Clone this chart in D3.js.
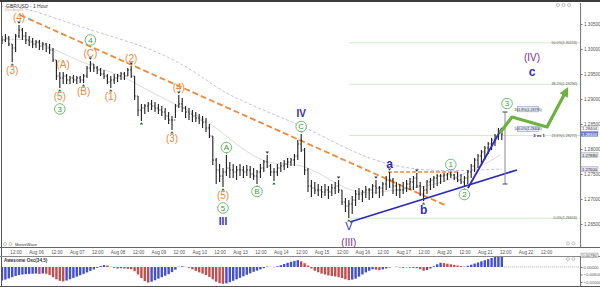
<!DOCTYPE html>
<html>
<head>
<meta charset="utf-8">
<script src="https://cdn.jsdelivr.net/npm/d3@7"></script>
<style>
  body { margin: 0; background: #fff; }
  svg { display: block; font-family: "Liberation Sans", Arial, sans-serif; }
</style>
</head>
<body>
<svg id="chart" width="600" height="287"></svg>
<script>
// ---- GBP/USD, 2-hour bars (prices) ----
const barHigh = [
  1.3026,1.3030,1.3026,1.3010,1.3030,1.3048,1.3042,1.3034,1.3026,1.3022,
  1.3018,1.3018,1.3014,1.3012,1.3010,1.3002,1.2978,1.2954,1.2954,1.2950,
  1.2946,1.2948,1.2946,1.2946,1.2950,1.2966,1.2976,1.2970,1.2966,1.2962,
  1.2958,1.2950,1.2946,1.2950,1.2950,1.2954,1.2954,1.2962,1.2966,1.2946,
  1.2906,1.2890,1.2890,1.2894,1.2898,1.2894,1.2890,1.2886,1.2882,1.2874,
  1.2866,1.2890,1.2908,1.2902,1.2886,1.2882,1.2878,1.2874,1.2870,1.2866,
  1.2862,1.2850,1.2826,1.2782,1.2770,1.2762,1.2788,1.2774,1.2770,1.2766,
  1.2770,1.2766,1.2768,1.2766,1.2762,1.2758,1.2770,1.2778,1.2788,1.2770,
  1.2762,1.2770,1.2774,1.2778,1.2782,1.2782,1.2790,1.2818,1.2830,1.2802,
  1.2762,1.2738,1.2734,1.2730,1.2726,1.2730,1.2726,1.2730,1.2734,1.2738,
  1.2718,1.2702,1.2698,1.2706,1.2718,1.2722,1.2718,1.2726,1.2722,1.2730,
  1.2738,1.2726,1.2734,1.2746,1.2754,1.2742,1.2734,1.2730,1.2734,1.2738,
  1.2742,1.2746,1.2752,1.2734,1.2726,1.2738,1.2742,1.2746,1.2750,1.2750,
  1.2752,1.2752,1.2754,1.2750,1.2754,1.2750,1.2746,1.2758,1.2770,1.2782,
  1.2790,1.2798,1.2806,1.2814,1.2822,1.2830,1.2842,1.2838
];
const barLow = [
  1.3010,1.3014,1.3006,1.2974,1.2994,1.3022,1.3018,1.3010,1.3006,1.3002,
  1.3002,1.2998,1.2998,1.2994,1.2990,1.2974,1.2938,1.2922,1.2930,1.2930,
  1.2930,1.2932,1.2930,1.2932,1.2932,1.2942,1.2954,1.2954,1.2950,1.2946,
  1.2940,1.2930,1.2922,1.2930,1.2934,1.2938,1.2938,1.2946,1.2942,1.2898,
  1.2866,1.2856,1.2870,1.2874,1.2878,1.2874,1.2870,1.2866,1.2858,1.2850,
  1.2838,1.2862,1.2882,1.2874,1.2862,1.2858,1.2854,1.2854,1.2850,1.2842,
  1.2834,1.2822,1.2768,1.2730,1.2734,1.2724,1.2746,1.2742,1.2742,1.2738,
  1.2746,1.2742,1.2746,1.2742,1.2738,1.2730,1.2742,1.2754,1.2762,1.2746,
  1.2736,1.2746,1.2754,1.2758,1.2762,1.2766,1.2766,1.2778,1.2794,1.2748,
  1.2714,1.2704,1.2710,1.2706,1.2702,1.2706,1.2700,1.2706,1.2710,1.2712,
  1.2688,1.2674,1.2662,1.2670,1.2686,1.2698,1.2694,1.2702,1.2698,1.2702,
  1.2710,1.2702,1.2706,1.2718,1.2722,1.2710,1.2706,1.2702,1.2710,1.2714,
  1.2718,1.2718,1.2722,1.2706,1.2696,1.2710,1.2718,1.2722,1.2726,1.2730,
  1.2734,1.2738,1.2742,1.2738,1.2734,1.2730,1.2724,1.2730,1.2742,1.2754,
  1.2762,1.2770,1.2778,1.2790,1.2798,1.2806,1.2818,1.2818
];
const barClose = [
  1.3018,1.3022,1.3010,1.3002,1.3026,1.3038,1.3026,1.3018,1.3014,1.3010,
  1.3014,1.3006,1.3010,1.3002,1.2998,1.2978,1.2946,1.2942,1.2946,1.2938,
  1.2942,1.2938,1.2942,1.2938,1.2946,1.2962,1.2970,1.2962,1.2958,1.2950,
  1.2946,1.2934,1.2938,1.2942,1.2946,1.2950,1.2946,1.2958,1.2946,1.2906,
  1.2878,1.2882,1.2886,1.2890,1.2886,1.2882,1.2878,1.2874,1.2866,1.2858,
  1.2858,1.2886,1.2890,1.2882,1.2874,1.2870,1.2866,1.2862,1.2858,1.2854,
  1.2842,1.2826,1.2778,1.2758,1.2746,1.2754,1.2762,1.2758,1.2754,1.2758,
  1.2758,1.2754,1.2758,1.2750,1.2746,1.2754,1.2762,1.2774,1.2766,1.2754,
  1.2754,1.2762,1.2766,1.2770,1.2774,1.2778,1.2786,1.2810,1.2798,1.2758,
  1.2726,1.2722,1.2718,1.2718,1.2714,1.2718,1.2714,1.2722,1.2726,1.2718,
  1.2694,1.2686,1.2690,1.2698,1.2710,1.2710,1.2714,1.2718,1.2718,1.2726,
  1.2722,1.2722,1.2730,1.2738,1.2738,1.2726,1.2718,1.2718,1.2722,1.2730,
  1.2734,1.2742,1.2726,1.2710,1.2718,1.2734,1.2738,1.2742,1.2746,1.2746,
  1.2748,1.2750,1.2748,1.2742,1.2738,1.2734,1.2742,1.2754,1.2766,1.2778,
  1.2786,1.2794,1.2802,1.2810,1.2818,1.2826,1.2834,1.2830
];

// Awesome Oscillator (34,5), in thousandths
const aoMilli = [
  -9.0,-8.4,-7.6,-6.8,-6.0,-5.4,-5.0,-4.8,-4.6,-4.5,
  -4.4,-4.6,-4.3,-4.5,-5.4,-6.8,-8.2,-9.2,-9.6,-9.0,
  -8.2,-7.3,-6.4,-5.5,-4.6,-3.6,-2.6,-1.6,-0.6,0.6,
  1.3,1.0,0.2,-0.6,-1.0,-0.8,-1.0,-1.2,-1.5,-2.8,
  -5.0,-7.4,-9.4,-10.4,-9.8,-8.8,-7.8,-6.8,-5.8,-4.8,
  -3.4,-1.8,0.2,0.5,0.2,-0.6,-1.6,-2.6,-3.6,-4.4,
  -5.4,-6.6,-8.2,-9.8,-10.8,-11.2,-10.9,-10.2,-9.2,-8.2,
  -7.2,-6.2,-5.2,-4.2,-3.2,-2.4,-1.6,-0.8,0.3,0.1,
  -0.2,0.5,1.2,2.0,2.8,3.5,4.1,4.6,3.8,2.5,
  1.0,-1.0,-2.5,-3.5,-4.4,-5.0,-5.6,-6.0,-6.3,-6.8,
  -7.4,-8.2,-8.8,-8.4,-7.8,-6.4,-5.0,-3.6,-2.5,-1.5,
  -1.8,-2.1,-1.6,-1.0,-0.4,0.0,0.2,-0.3,-0.5,-0.2,
  -0.4,-0.6,-0.8,-1.5,-2.5,-2.0,-1.0,0.5,1.8,2.8,
  2.6,2.2,1.8,1.4,1.0,0.6,0.3,0.8,1.5,2.3,
  3.0,3.8,4.5,5.2,6.0,6.7,7.3,7.8
];
const aoValues = aoMilli.map(v => v / 1000);

// Session labels (one per trading day, starting Aug 03)
const dayLabels = ["Aug 03","Aug 06","Aug 07","Aug 08","Aug 09","Aug 10","Aug 13",
                   "Aug 14","Aug 15","Aug 16","Aug 17","Aug 20","Aug 21","Aug 22"];
const priceTicks = [1.265,1.270,1.275,1.280,1.285,1.290,1.295,1.300,1.305];
const aoTicks = [0, -0.005, -0.01];

// Moving averages as [trading hour, price]
const maSlow = [[2.8,1.3086],[18.7,1.3082],[38.1,1.3058],[61.6,1.3032],[91.1,1.3002],
  [114.6,1.2962],[132.2,1.2918],[144,1.2898],[161.6,1.2872],[179.3,1.2848],[196.9,1.2818],
  [214.6,1.2788],[232.2,1.2768],[249.9,1.2758],[267.5,1.2756],[285.2,1.2758],[298.1,1.2760]];
const maFast = [[4,1.3018],[20.5,1.3022],[38.1,1.2994],[55.8,1.2966],[73.4,1.2950],
  [91.1,1.2914],[108.7,1.2886],[126.4,1.2854],[144,1.2802],[161.6,1.2766],[179.3,1.2774],
  [196.9,1.2738],[214.6,1.2706],[232.2,1.2718],[249.9,1.2722],[267.5,1.2738],[285.2,1.2764],[297,1.2788]];

// Trend lines and projections as [trading hour, price]
const orangeTrend = [[14.6,1.3068],[265.8,1.2686]];
const orangeLevel = [[231.1,1.2754],[273.4,1.2754]];
const blueSupport = [[208.7,1.2654],[306.9,1.2758]];
const blueImpulse = [[278.1,1.2722],[298.1,1.2842]];
const greenPath = [[296.9,1.2832],[304,1.2864],[324.6,1.2844],[335.2,1.2912]];
const measure = {hour: 299.9, top: 1.2874, bottom: 1.2730};

// Fibonacci retracement
const fibLow = 1.26616, fibHigh = 1.33632;
const fibLevels = [0, 0.236, 0.382, 0.5];
const fibStartBar = 102;

// Wave 3 extension targets
const extTargets = [["161.8%", 1.28795], ["100.0%", 1.28404]];

// Wave labels: [text, bar, side, style, stack]
const waveLabels = [
  ["(4)",5,"H","orange",0],["(3)",3,"L","orange",0],
  ["(5)",17,"L","orange",0],["3",17,"L","green",1],
  ["(A)",18,"H","orange",0],["(B)",24,"L","orange",0],
  ["(C)",26,"H","orange",0],["4",26,"H","green",1],
  ["(1)",32,"L","orange",0],["(2)",38,"H","orange",0],
  ["(3)",50,"L","orange",0],["(4)",52,"H","orange",0],
  ["(5)",65,"L","orange",0],["5",65,"L","green",1],["III",65,"L","blueM",2],
  ["A",66,"H","green",0],["B",75,"L","green",0],
  ["C",88,"H","green",0],["IV",88,"H","blueM",1],
  ["V",102,"L","blueV",0],["(III)",102,"L","purple",1],
  ["a",114,"H","blueL",0],["b",124,"L","blueL",0],
  ["1",132,"H","green",0],["2",136,"L","green",0]
];
const targetLabels = [["(IV)",315.8,1.2984,"purple"],["c",315.8,1.2954,"blueL"]];

const swingHighBars = [5,26,38,52,66,78,88,99,110,114,122,132];
const swingLowBars = [3,17,24,32,41,50,65,75,80,102,124,136];

// ---- scales ----
const firstBarHour = 4, barHours = 2;
const barHour = i => firstBarHour + i * barHours;
const x = d3.scaleLinear().domain([0, 24]).range([-4.8, 36]);
const y = d3.scaleLinear().domain([1.265, 1.305]).range([224, 24]);
const aoY = d3.scaleLinear().domain([-0.01, 0.005]).range([282, 259.5]);

const svg = d3.select("#chart");
const defs = svg.append("defs");
defs.append("clipPath").attr("id", "plotClip")
  .append("rect").attr("x", 2).attr("y", 3).attr("width", 578).attr("height", 244);
defs.append("clipPath").attr("id", "aoClip")
  .append("rect").attr("x", 2).attr("y", 257).attr("width", 578).attr("height", 29);
defs.append("marker").attr("id", "arrowHead").attr("viewBox", "0 0 10 10")
  .attr("refX", 3).attr("refY", 5).attr("markerWidth", 3).attr("markerHeight", 3)
  .attr("orient", "auto")
  .append("path").attr("d", "M0,0 L10,5 L0,10 z").attr("fill", "#6cb33e");

svg.append("rect").attr("width", 600).attr("height", 287).attr("fill", "#fff");

const plot = svg.append("g").attr("clip-path", "url(#plotClip)");
const straight = d3.line().x(d => x(d[0])).y(d => y(d[1]));
const smooth = d3.line().x(d => x(d[0])).y(d => y(d[1])).curve(d3.curveBasis);

// Fibonacci lines
const fibStart = x(barHour(fibStartBar));
fibLevels.forEach(l => {
  const p = fibLow + (fibHigh - fibLow) * l;
  plot.append("line").attr("x1", fibStart).attr("x2", 580)
    .attr("y1", y(p)).attr("y2", y(p)).attr("stroke", "#d3ebc8").attr("stroke-width", 1);
  plot.append("text").attr("x", 577).attr("y", y(p) + 1.2).attr("text-anchor", "end")
    .attr("font-size", 3.6).attr("fill", "#555")
    .text(`${(l * 100).toFixed(1)}%(${p.toFixed(5)})`);
});

// Moving averages
plot.append("path").datum(maSlow).attr("d", smooth).attr("fill", "none")
  .attr("stroke", "#c3b6e0").attr("stroke-width", 0.9).attr("stroke-dasharray", "3,2");
plot.append("path").datum(maFast).attr("d", smooth).attr("fill", "none")
  .attr("stroke", "#d0d0d0").attr("stroke-width", 0.8);

// Orange trend lines
plot.append("path").datum(orangeTrend).attr("d", straight).attr("fill", "none")
  .attr("stroke", "#ec8a3c").attr("stroke-width", 1.8).attr("stroke-dasharray", "6,3");
plot.append("path").datum(orangeLevel).attr("d", straight).attr("fill", "none")
  .attr("stroke", "#ec8a3c").attr("stroke-width", 1.4).attr("stroke-dasharray", "4,2");

// Price bars (OHLC)
const bars = plot.append("g").selectAll("g").data(barHigh.map((h, i) => ({
  i, h, l: barLow[i], c: barClose[i], o: i > 0 ? barClose[i - 1] : barClose[0]
}))).join("g");
bars.append("line").attr("x1", d => x(barHour(d.i))).attr("x2", d => x(barHour(d.i)))
  .attr("y1", d => y(d.h)).attr("y2", d => y(d.l)).attr("stroke", "#1e1e1e").attr("stroke-width", 1.1);
bars.append("line").attr("x1", d => x(barHour(d.i)) - 1.2).attr("x2", d => x(barHour(d.i)))
  .attr("y1", d => y(d.o)).attr("y2", d => y(d.o)).attr("stroke", "#1e1e1e").attr("stroke-width", 0.8);
bars.append("line").attr("x1", d => x(barHour(d.i))).attr("x2", d => x(barHour(d.i)) + 1.2)
  .attr("y1", d => y(d.c)).attr("y2", d => y(d.c)).attr("stroke", "#1e1e1e").attr("stroke-width", 0.8);

// Swing markers
plot.selectAll(".sh").data(swingHighBars).join("path").attr("class", "sh")
  .attr("d", i => { const cx = x(barHour(i)), cy = y(barHigh[i]) - 1.2;
    return `M${cx - 1.8},${cy - 2.2}L${cx + 1.8},${cy - 2.2}L${cx},${cy}Z`; })
  .attr("fill", "#3a3a3a");
plot.selectAll(".sl").data(swingLowBars).join("path").attr("class", "sl")
  .attr("d", i => { const cx = x(barHour(i)), cy = y(barLow[i]) + 1.2;
    return `M${cx - 1.8},${cy + 2.2}L${cx + 1.8},${cy + 2.2}L${cx},${cy}Z`; })
  .attr("fill", "#2f6e2f");

// Blue wave lines
plot.append("path").datum(blueSupport).attr("d", straight).attr("fill", "none")
  .attr("stroke", "#2b2bbd").attr("stroke-width", 1.8);
plot.append("path").datum(blueImpulse).attr("d", straight).attr("fill", "none")
  .attr("stroke", "#2b2bbd").attr("stroke-width", 1.8);

// Measurement of wave 3
const mx = x(measure.hour);
plot.append("line").attr("x1", mx).attr("x2", mx).attr("y1", y(measure.top)).attr("y2", y(measure.bottom))
  .attr("stroke", "#8a8a8a").attr("stroke-width", 1);
[measure.top, measure.bottom].forEach(p => plot.append("line")
  .attr("x1", mx - 2.5).attr("x2", mx + 2.5).attr("y1", y(p)).attr("y2", y(p))
  .attr("stroke", "#444").attr("stroke-width", 1));

// Extension target boxes
extTargets.forEach(([lbl, p]) => {
  const cx = x(313.4), cy = y(p);
  plot.append("rect").attr("x", cx - 10.5).attr("y", cy - 2.6).attr("width", 21).attr("height", 5.2)
    .attr("fill", "#e3e9f8").attr("stroke", "#7d8cc8").attr("stroke-width", 0.5);
  plot.append("text").attr("x", cx).attr("y", cy + 1.3).attr("text-anchor", "middle")
    .attr("font-size", 3.6).attr("fill", "#333").text(`${lbl}(${p.toFixed(5)})`);
});
plot.append("text").attr("x", x(319.9)).attr("y", y(1.2824)).attr("text-anchor", "middle")
  .attr("font-size", 4.2).attr("font-weight", "bold").attr("fill", "#222").text("3 vs 1");

// Green projection arrow
plot.append("path").datum(greenPath).attr("d", straight).attr("fill", "none")
  .attr("stroke", "#6cb33e").attr("stroke-width", 3.2).attr("stroke-linejoin", "round")
  .attr("marker-end", "url(#arrowHead)");

// Wave labels
const styles = {
  orange: {size: 10, fill: "#ea8a3c", weight: "normal", gap: 8, step: 14},
  green:  {size: 8, fill: "#3f9c3f", weight: "normal", gap: 7.5, step: 13},
  blueM:  {size: 10, fill: "#2f2fb5", weight: "bold", gap: 8, step: 13},
  blueV:  {size: 11, fill: "#2f2fb5", weight: "normal", gap: 8, step: 16},
  blueL:  {size: 12, fill: "#2f2fb5", weight: "bold", gap: 8.5, step: 14},
  purple: {size: 10, fill: "#7b2d8f", weight: "normal", gap: 9, step: 16}
};
function drawLabel(g, text, cx, cy, st) {
  const s = styles[st];
  if (st === "green") {
    g.append("circle").attr("cx", cx).attr("cy", cy).attr("r", 5.3)
      .attr("fill", "#fff").attr("stroke", "#5cb85c").attr("stroke-width", 0.9);
  }
  g.append("text").attr("x", cx).attr("y", cy).attr("dy", "0.36em").attr("text-anchor", "middle")
    .attr("font-size", s.size).attr("font-weight", s.weight).attr("fill", s.fill).text(text);
}
const labelG = svg.append("g");
// stacked labels continue outward from the previous label on the same bar & side
const stackPos = {};
waveLabels.forEach(([text, bar, side, st, lvl]) => {
  const s = styles[st];
  const key = bar + side;
  let cy;
  if (lvl === 0) {
    cy = side === "H" ? y(barHigh[bar]) - s.gap : y(barLow[bar]) + s.gap;
  } else {
    cy = stackPos[key] + (side === "H" ? -s.step : s.step);
  }
  stackPos[key] = cy;
  drawLabel(labelG, text, x(barHour(bar)), cy, st);
});
drawLabel(labelG, "3", x(measure.hour) + 2, y(measure.top) - 8.5, "green");
targetLabels.forEach(([t, h, p, st]) => drawLabel(labelG, t, x(h), y(p), st));

// ---- frame ----
svg.append("rect").attr("x", 0).attr("y", 0).attr("width", 600).attr("height", 2).attr("fill", "#3b3b3b");
svg.append("line").attr("x1", 1.5).attr("x2", 1.5).attr("y1", 2).attr("y2", 287).attr("stroke", "#555");
svg.append("line").attr("x1", 0).attr("x2", 600).attr("y1", 247.5).attr("y2", 247.5).attr("stroke", "#666");
svg.append("line").attr("x1", 0).attr("x2", 600).attr("y1", 256.5).attr("y2", 256.5).attr("stroke", "#888");
svg.append("line").attr("x1", 0).attr("x2", 600).attr("y1", 286.5).attr("y2", 286.5).attr("stroke", "#555");

// Title
svg.append("text").attr("x", 6).attr("y", 7.5).attr("font-size", 5).attr("fill", "#333").text("GBP/USD - 1 Hour");
svg.append("text").attr("x", 5).attr("y", 11).attr("font-size", 2.8).attr("fill", "#e3a57a").text("Wave Analysis");

// small panel icons
function icons(cx0, cy, n) {
  for (let k = 0; k < n; k++) svg.append("circle").attr("cx", cx0 + k * 5.5).attr("cy", cy).attr("r", 1.5)
    .attr("fill", "none").attr("stroke", "#999").attr("stroke-width", 0.6);
}
icons(558, 5, 3);
icons(568, 243.5, 2);
icons(568, 259, 2);
icons(5, 244, 2);
svg.append("text").attr("x", 15).attr("y", 245.5).attr("font-size", 4).attr("fill", "#333").text("MotiveWave");

// ---- right price axis ----
const yAxis = svg.append("g").attr("transform", "translate(580.5,0)")
  .call(d3.axisRight(y).tickValues(priceTicks).tickSize(2).tickFormat(d3.format(".5f")));
yAxis.select(".domain").attr("stroke", "#777").attr("d", "M0,3V247");
yAxis.selectAll("text").attr("font-size", 4.6).attr("fill", "#555").attr("x", 3.5)
  .attr("font-family", "Liberation Sans, Arial, sans-serif");
yAxis.selectAll("line").attr("stroke", "#777");
const minor = d3.range(1.2605, 1.3092, 0.0005);
svg.append("g").selectAll("line").data(minor).join("line")
  .attr("x1", 580.5).attr("x2", 581.7).attr("y1", d => y(d)).attr("y2", d => y(d))
  .attr("stroke", "#aaa").attr("stroke-width", 0.4);

// value boxes on the price axis
const lastClose = barClose[barClose.length - 1];
const valueBoxes = [
  [extTargets[1][1], "#ffffff", "#333"],
  [lastClose, "#6d7fd4", "#fff"],
  [maFast[maFast.length - 1][1], "#e4e4e4", "#333"],
  [maSlow[maSlow.length - 1][1], "#e6def3", "#333"]
];
valueBoxes.forEach(([p, fill, tc]) => {
  svg.append("rect").attr("x", 581).attr("y", y(p) - 2.4).attr("width", 17).attr("height", 4.8)
    .attr("fill", fill).attr("stroke", "#8890b8").attr("stroke-width", 0.4);
  svg.append("text").attr("x", 589.5).attr("y", y(p) + 1.5).attr("text-anchor", "middle")
    .attr("font-size", 4.2).attr("fill", tc).text(p.toFixed(5));
});

// ---- time axis ----
const timeTicks = d3.range(12, 336, 12);
const xAxis = svg.append("g").attr("transform", "translate(0,248)")
  .call(d3.axisBottom(x).tickValues(timeTicks).tickSize(0)
    .tickFormat(h => h % 24 === 12 ? "12:00" : dayLabels[h / 24]));
xAxis.select(".domain").remove();
xAxis.selectAll("text").attr("font-size", 4.6).attr("fill", "#555").attr("y", 3)
  .attr("font-family", "Liberation Sans, Arial, sans-serif");

// ---- Awesome Oscillator ----
svg.append("text").attr("x", 4).attr("y", 262).attr("font-size", 4.6).attr("font-weight", "bold")
  .attr("fill", "#333").text("Awesome Osc(34,5)");
const ao = svg.append("g").attr("clip-path", "url(#aoClip)");
ao.selectAll("rect").data(aoValues).join("rect")
  .attr("x", (d, i) => x(barHour(i)) - 1.2).attr("width", 2.4)
  .attr("y", d => Math.min(aoY(d), aoY(0))).attr("height", d => Math.abs(aoY(d) - aoY(0)))
  .attr("fill", (d, i) => (i === 0 || d >= aoValues[i - 1]) ? "#4450cc" : "#c05050");
ao.append("line").attr("x1", x(barHour(aoValues.length - 1)) + 2).attr("x2", 580)
  .attr("y1", aoY(0)).attr("y2", aoY(0)).attr("stroke", "#777").attr("stroke-width", 0.6)
  .attr("stroke-dasharray", "1,1");
const aoAxis = svg.append("g").attr("transform", "translate(580.5,0)")
  .call(d3.axisRight(aoY).tickValues(aoTicks).tickSize(2).tickFormat(d3.format(".5f")));
aoAxis.select(".domain").attr("stroke", "#777").attr("d", "M0,257V286");
aoAxis.selectAll("text").attr("font-size", 4.2).attr("fill", "#555").attr("x", 3)
  .attr("font-family", "Liberation Sans, Arial, sans-serif");
aoAxis.selectAll("line").attr("stroke", "#777");
const lastAo = aoValues[aoValues.length - 1];
svg.append("rect").attr("x", 581).attr("y", aoY(lastAo) - 2.2).attr("width", 17).attr("height", 4.4)
  .attr("fill", "#fff").attr("stroke", "#555").attr("stroke-width", 0.4);
svg.append("text").attr("x", 589.5).attr("y", aoY(lastAo) + 1.4).attr("text-anchor", "middle")
  .attr("font-size", 4).attr("fill", "#333").text(lastAo.toFixed(5));
</script>
</body>
</html>
